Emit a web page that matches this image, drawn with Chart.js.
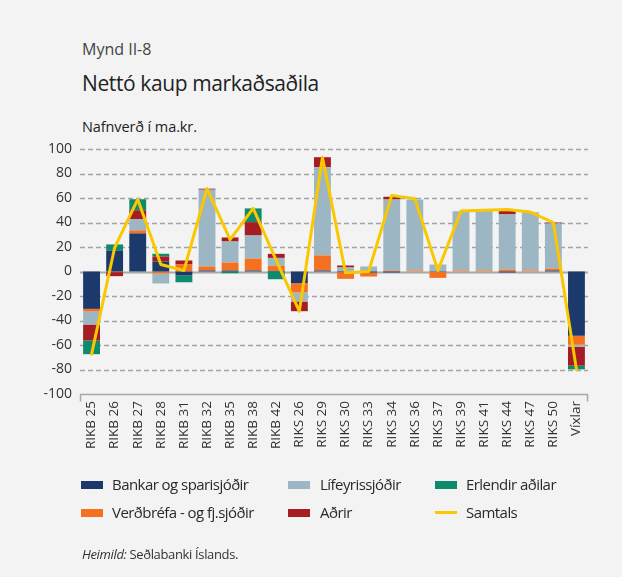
<!DOCTYPE html>
<html>
<head>
<meta charset="utf-8">
<script src="https://cdn.jsdelivr.net/npm/chart.js@4"></script>
<style>
  html, body { margin:0; padding:0; }
  body { width:622px; height:577px; background:#f3f3f3; position:relative; overflow:hidden; font-family:"Open Sans", sans-serif; color:#333; }
  .t { position:absolute; white-space:nowrap; line-height:1; }
  .lg { font-size:15px; letter-spacing:-0.55px; color:#2a2a2a; }
  #wrap { position:absolute; left:0; top:0; width:622px; height:577px; }
  .sw { position:absolute; width:22px; height:8px; }
  .ln { position:absolute; width:22px; height:3px; }
</style>
</head>
<body>
<div class="t" style="left:82px; top:41px; font-size:16px; color:#444;">Mynd II-8</div>
<div class="t" style="left:82px; top:73px; font-size:21px; color:#222; letter-spacing:-0.4px;">Nettó kaup markaðsaðila</div>
<div class="t" style="left:82px; top:120px; font-size:14.5px; color:#222; letter-spacing:-0.1px;">Nafnverð í ma.kr.</div>
<div id="wrap"><canvas id="c" width="622" height="577"></canvas></div>

<div class="sw" style="left:81px; top:481px; background:#1b3a6b;"></div>
<div class="t lg" style="left:112px; top:477px;">Bankar og sparisjóðir</div>
<div class="sw" style="left:288px; top:481px; background:#9db6c4;"></div>
<div class="t lg" style="left:320px; top:477px;">Lífeyrissjóðir</div>
<div class="sw" style="left:435px; top:481px; background:#0e8a6c;"></div>
<div class="t lg" style="left:466px; top:477px;">Erlendir aðilar</div>

<div class="sw" style="left:81px; top:509px; background:#f47122;"></div>
<div class="t lg" style="left:112px; top:505px;">Verðbréfa - og fj.sjóðir</div>
<div class="sw" style="left:288px; top:509px; background:#a51d23;"></div>
<div class="t lg" style="left:320px; top:505px;">Aðrir</div>
<div class="ln" style="left:435px; top:511px; background:#f9c800;"></div>
<div class="t lg" style="left:466px; top:505px;">Samtals</div>

<div class="t" style="left:82px; top:548px; font-size:13px; letter-spacing:-0.35px;"><i>Heimild:</i> Seðlabanki Íslands.</div>

<script>
const categories = ["RIKB 25","RIKB 26","RIKB 27","RIKB 28","RIKB 31","RIKB 32","RIKB 35","RIKB 38","RIKB 42","RIKS 26","RIKS 29","RIKS 30","RIKS 33","RIKS 34","RIKS 36","RIKS 37","RIKS 39","RIKS 41","RIKS 44","RIKS 47","RIKS 50","Víxlar"];
const bankar    = [-30.5, 17.2, 31.1, 8.2, -3.3, 0.8, 0.8, 0.8, 0.5, -9.5, 0.8, -0.5, -0.8, -0.8, 0, -0.3, 0, 0, -0.8, 0, 0.8, -52.4];
const verdbrefa = [-2.2, -0.5, 2.5, -1.6, 5.7, 3.3, 6.5, 9.8, 4.1, -7.6, 12.3, -5.5, -3.3, 0.8, 0.8, -4.9, 0.8, 0.8, 1.6, 0.8, 1.6, -7.4];
const lifeyris  = [-10.6, 0, 9.0, -8.2, 0, 62.7, 17.2, 18.8, 6.5, -7.4, 72.0, 3.3, 4.1, 58.0, 58.0, 5.7, 48.3, 49.1, 45.0, 47.5, 36.8, -1.6];
const adrir     = [-13.0, -3.3, 7.4, 4.1, 3.3, 0.8, 3.3, 10.9, 3.3, -7.9, 8.2, 1.6, 0, 2.2, 0, 0, 0, 0, 2.7, 0, 0.8, -15.5];
const erlendir  = [-11.2, 4.9, 9.0, 2.2, -5.5, 0, -1.4, 11.2, -6.3, 0, 0, 0, 0, 0, 0, 0, 0, 0, 0, 0, 0, -3.0];
const samtals   = [-67.6, 19.4, 58.9, 5.7, 0.8, 67.6, 26.0, 51.5, 9.0, -32.5, 93.3, -1.1, 0, 62.0, 59.5, 0.8, 49.4, 50.0, 50.7, 48.5, 40.0, -80.0];
const yTicks = { min: -100, max: 100, step: 20 };

const gridPlugin = {
  id: 'gridPlugin',
  beforeDatasetsDraw(chart) {
    const {ctx, chartArea, scales} = chart;
    const y = scales.y;
    ctx.save();
    y.ticks.forEach(t => {
      const py = Math.round(y.getPixelForValue(t.value)) + 0.5;
      ctx.beginPath();
      if (t.value === 0) {
        ctx.setLineDash([]); ctx.strokeStyle = '#a8a8a8'; ctx.lineWidth = 2;
      } else if (t.value === yTicks.min) {
        ctx.setLineDash([]); ctx.strokeStyle = '#a8a8a8'; ctx.lineWidth = 1.5;
      } else {
        ctx.setLineDash([5, 3]); ctx.strokeStyle = '#a3a3a3'; ctx.lineWidth = 1.3;
      }
      ctx.moveTo(chartArea.left, py);
      ctx.lineTo(chartArea.right, py);
      ctx.stroke();
      if (t.value === yTicks.min) {
        ctx.beginPath();
        ctx.moveTo(chartArea.left + 0.5, py); ctx.lineTo(chartArea.left + 0.5, py + 7);
        ctx.moveTo(chartArea.right - 0.5, py); ctx.lineTo(chartArea.right - 0.5, py + 7);
        ctx.stroke();
      }
    });
    ctx.restore();
  }
};

const barDs = (label, data, color) => ({ type:'bar', label, data, backgroundColor: color, borderWidth: 0, stack: 'b', order: 1, categoryPercentage: 1, barPercentage: 0.73 });

new Chart(document.getElementById('c'), {
  data: {
    labels: categories,
    datasets: [
      { type:'line', label:'Samtals', data: samtals, borderColor:'#f9c800', borderWidth:3, borderJoinStyle:'round', borderCapStyle:'round', pointRadius:0, tension:0, order:0, stack:'line' },
      barDs('Bankar og sparisjóðir', bankar, '#1b3a6b'),
      barDs('Verðbréfa - og fj.sjóðir', verdbrefa, '#f47122'),
      barDs('Lífeyrissjóðir', lifeyris, '#9db6c4'),
      barDs('Aðrir', adrir, '#a51d23'),
      barDs('Erlendir aðilar', erlendir, '#0e8a6c')
    ]
  },
  options: {
    responsive: false,
    animation: false,
    layout: { padding: { top: 149, right: 34, bottom: 0, left: 0 } },
    plugins: { legend: { display:false }, tooltip: { enabled:false } },
    scales: {
      x: {
        stacked: true,
        grid: { display:false, drawTicks:false },
        border: { display:false },
        ticks: { minRotation:90, maxRotation:90, padding:7, color:'#333', font:{ family:'Open Sans', size:13.5 } },
        afterFit: s => { s.height = 183; }
      },
      y: {
        stacked: true,
        min: yTicks.min, max: yTicks.max,
        grid: { display:false, drawTicks:false },
        border: { display:false },
        ticks: { stepSize: yTicks.step, padding:8, color:'#333', font:{ family:'Open Sans', size:14 } },
        afterFit: s => { s.width = 80; }
      }
    }
  },
  plugins: [gridPlugin]
});
</script>
</body>
</html>
